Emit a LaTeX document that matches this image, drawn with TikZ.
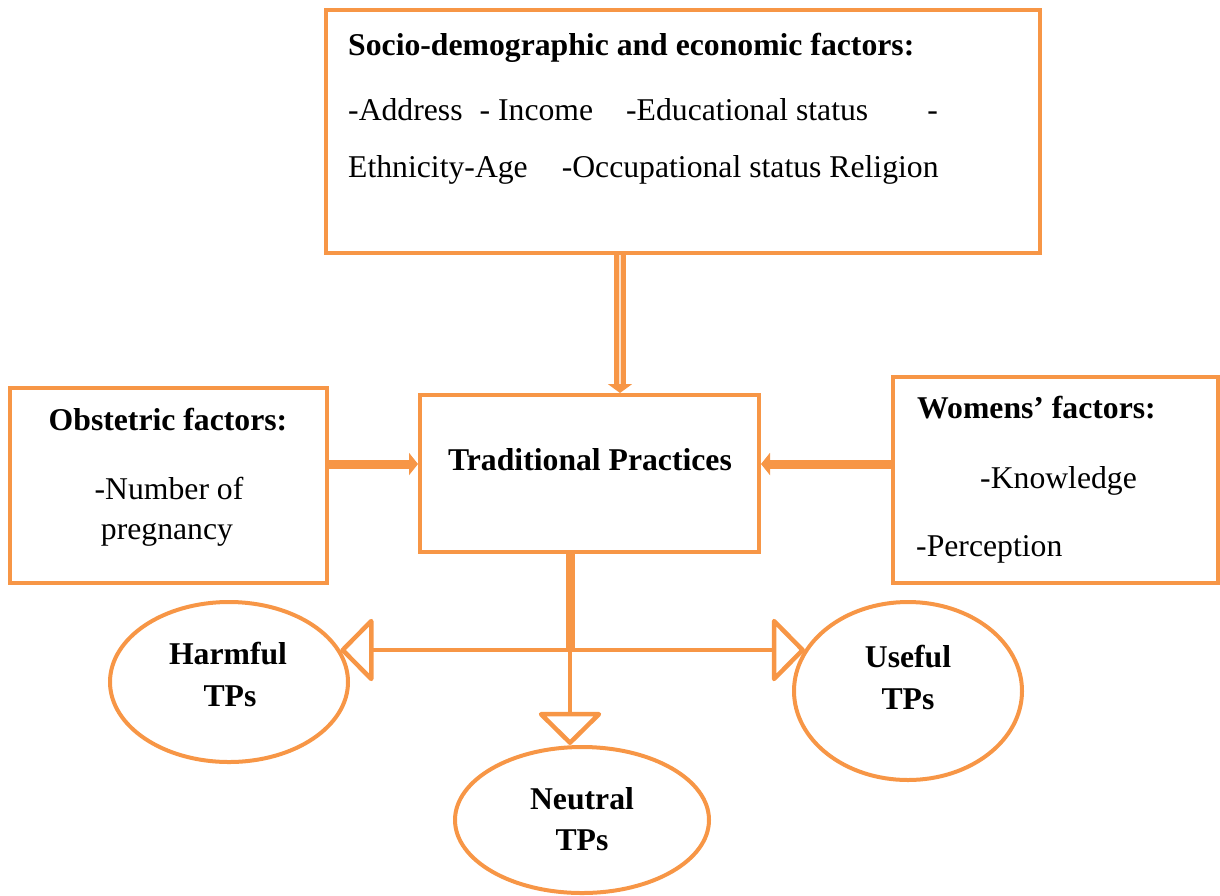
\documentclass[tikz,border=0pt]{standalone}
\usepackage{fontspec}
\setmainfont{Liberation Serif}
\usepackage{xcolor}
\usepackage{tikz}
\usetikzlibrary{arrows.meta,shapes.geometric}

\definecolor{tporange}{HTML}{F79646}

\begin{document}
\begin{tikzpicture}[x=1pt,y=-1pt,
  box/.style={draw=tporange,line width=4pt,inner sep=0pt},
  oval/.style={ellipse,draw=tporange,line width=4pt,inner sep=0pt},
  txt/.style={font={\fontsize{31.7}{39}\selectfont},inner sep=0pt},
  hd/.style={font={\fontsize{31.7}{39}\selectfont\bfseries},inner sep=0pt},
  feed/.style={draw=tporange,double=white!70!tporange,double distance=1.5pt,line width=5.5pt,-{Triangle[width=24pt,length=9pt]}},
  push/.style={draw=tporange,line width=9pt,-{Triangle[width=22pt,length=9pt]}},
  stem/.style={draw=tporange,line width=9pt},
  branch/.style={draw=tporange,line width=4.5pt,-{Triangle[open,round,width=68pt,length=34pt]}}]
\useasboundingbox (0,0) rectangle (1220,895);

% boxes
\node[box,minimum width=714pt,minimum height=243pt] (socio) at (683,131.5) {};
\node[box,minimum width=339pt,minimum height=157pt] (tp) at (589.5,473.5) {};
\node[box,minimum width=317pt,minimum height=195pt] (obst) at (168.5,485.5) {};
\node[box,minimum width=325pt,minimum height=206pt] (women) at (1055.5,480) {};

% outcomes
\node[oval,minimum width=238pt,minimum height=160pt] (harm) at (229,682) {};
\node[oval,minimum width=228pt,minimum height=178pt] (useful) at (908,691) {};
\node[oval,minimum width=254pt,minimum height=146pt] (neutral) at (582,820) {};

% texts
\node[hd,anchor=base west] (sociohd) at (348,55) {Socio-demographic and economic factors:};
\node[txt,anchor=base west] (socioa) at (348,120) {-Address\hspace{17pt}- Income\hspace{33pt}-Educational status\hspace{59pt}-};
\node[txt,anchor=base west] (sociob) at (348,177) {Ethnicity-Age\hspace{34pt}-Occupational status Religion};
\node[hd,anchor=base] (tphd) at (590,470) {Traditional Practices};
\node[hd,anchor=base] (obsthd) at (168,430) {Obstetric factors:};
\node[txt,anchor=base] (obsta) at (169,499) {-Number of};
\node[txt,anchor=base] (obstb) at (167,539) {pregnancy};
\node[hd,anchor=base west] (womenhd) at (917,418) {Womens’ factors:};
\node[txt,anchor=base west] (womena) at (980,488) {-Knowledge};
\node[txt,anchor=base west] (womenb) at (916,556) {-Perception};
\node[hd,anchor=base] (harma) at (228,664) {Harmful};
\node[hd,anchor=base] (harmb) at (230,706) {TPs};
\node[hd,anchor=base] (usefula) at (908,667) {Useful};
\node[hd,anchor=base] (usefulb) at (908,709) {TPs};
\node[hd,anchor=base] (neutrala) at (582,809) {Neutral};
\node[hd,anchor=base] (neutralb) at (582,850) {TPs};

% connectors
\coordinate (feedin) at ([xshift=30.5pt]tp.north);
\coordinate (mid) at (590,464);
\coordinate (split) at (570,650);
\draw[feed] (socio.south -| feedin) -- (feedin);
\draw[push] (obst.east |- mid) -- (tp.west |- mid);
\draw[push] (women.west |- mid) -- (tp.east |- mid);
\draw[stem] (tp.south -| split) -- (split);
\draw[branch] (split) -- (split -| harm.16);
\draw[branch] (split) -- (split -| useful.158);
\draw[branch] (split) -- (split |- neutral.north);
\end{tikzpicture}
\end{document}
